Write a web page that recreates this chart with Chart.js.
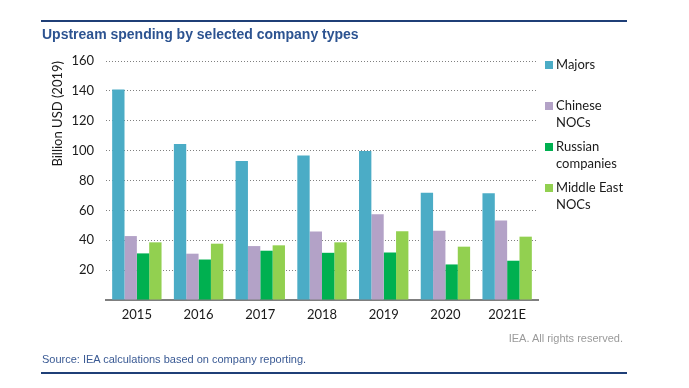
<!DOCTYPE html>
<html>
<head>
<meta charset="utf-8">
<script src="https://cdn.jsdelivr.net/npm/chart.js@4.4.1/dist/chart.umd.min.js"></script>
<style>
  html, body { margin: 0; padding: 0; background: #fff; }
  #wrap { position: relative; width: 689px; height: 388px; overflow: hidden; }
  #c { position: absolute; left: 0; top: 0; }
  .rule { position: absolute; left: 41px; width: 586px; height: 2px; background: #1f3f77; }
  #title { position: absolute; left: 42px; top: 26px; font: bold 14px "Liberation Sans", Arial, sans-serif; color: #2c5391; white-space: nowrap; }
  #source { position: absolute; left: 42px; top: 353px; font: 11px "Liberation Sans", Arial, sans-serif; color: #3a5a94; white-space: nowrap; }
  #rights { position: absolute; right: 66px; top: 332px; font: 11px "Liberation Sans", Arial, sans-serif; color: #9a9a9a; white-space: nowrap; }
</style>
</head>
<body>
<div id="wrap">
  <canvas id="c" width="689" height="388"></canvas>
  <div class="rule" style="top:20px"></div>
  <div id="title">Upstream spending by selected company types</div>
  <div id="rights">IEA. All rights reserved.</div>
  <div id="source">Source: IEA calculations based on company reporting.</div>
  <div class="rule" style="top:372px"></div>
</div>
<script>
const categories = ["2015", "2016", "2017", "2018", "2019", "2020", "2021E"];
const majors = [141, 104.5, 93, 96.7, 99.7, 71.8, 71.4];
const chineseNOCs = [42.8, 31, 36.1, 45.8, 57.4, 46.4, 53.2];
const russianCompanies = [31.2, 27.1, 33, 31.6, 31.8, 23.8, 26.3];
const middleEastNOCs = [38.6, 37.7, 36.6, 38.6, 46, 35.7, 42.4];
const seriesLabels = [["Majors"], ["Chinese", "NOCs"], ["Russian", "companies"], ["Middle East", "NOCs"]];
const yTicks = [0, 20, 40, 60, 80, 100, 120, 140, 160];
const yTitle = "Billion USD (2019)";

const colors = ["#4bacc6", "#b3a2c7", "#00b050", "#92d050"];
const series = [majors, chineseNOCs, russianCompanies, middleEastNOCs];

const FONT = "Lato, 'Open Sans', sans-serif";

const legendPlugin = {
  id: "sideLegend",
  afterDraw(chart) {
    const ctx = chart.ctx;
    ctx.save();
    ctx.font = "13px " + FONT;
    ctx.textBaseline = "middle";
    ctx.textAlign = "left";
    const x0 = 545, startY = 65, step = 41, lh = 17;
    chart.data.datasets.forEach((ds, i) => {
      const y = startY + i * step;
      ctx.fillStyle = ds.backgroundColor;
      ctx.fillRect(x0, y - 4, 8, 8);
      ctx.fillStyle = "#1a1a1a";
      ds.legendLines.forEach((t, j) => ctx.fillText(t, x0 + 11, y + j * lh));
    });
    ctx.restore();
  }
};

new Chart(document.getElementById("c"), {
  type: "bar",
  data: {
    labels: categories,
    datasets: series.map((d, i) => ({
      label: seriesLabels[i].join(" "),
      legendLines: seriesLabels[i],
      data: d,
      backgroundColor: colors[i],
      borderWidth: 0,
      categoryPercentage: 0.8,
      barPercentage: 1.0
    }))
  },
  options: {
    responsive: false,
    animation: false,
    layout: { padding: { left: 50, right: 151, top: 61, bottom: 60 } },
    plugins: { legend: { display: false }, tooltip: { enabled: false } },
    scales: {
      x: {
        grid: { display: false, drawTicks: false },
        border: { display: true, color: "#7f7f7f", width: 2 },
        ticks: { padding: 7, color: "#1a1a1a", font: { family: FONT, size: 13 } },
        afterFit(s) { s.height = 28; }
      },
      y: {
        min: 0, max: 160,
        afterBuildTicks(s) { s.ticks = yTicks.map(v => ({ value: v })); },
        grid: { color: "#808080", lineWidth: 1, drawTicks: false },
        border: { display: false, dash: [1, 2] },
        ticks: {
          padding: 12, color: "#1a1a1a", font: { family: FONT, size: 13 },
          callback: v => (v === 0 ? "" : v)
        },
        title: { display: true, text: yTitle, align: "end", color: "#1a1a1a", font: { family: FONT, size: 13 }, padding: { top: 0, bottom: 4 } },
        afterFit(s) { s.width = 56; }
      }
    }
  },
  plugins: [legendPlugin]
});
</script>
</body>
</html>
